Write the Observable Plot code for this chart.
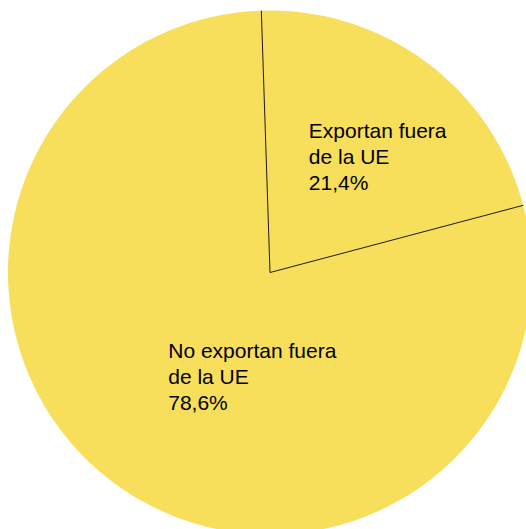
<!DOCTYPE html>
<html>
<head>
<meta charset="utf-8">
<script src="https://cdn.jsdelivr.net/npm/d3@7"></script>
<script src="https://cdn.jsdelivr.net/npm/@observablehq/plot@0.6"></script>
<style>
  html, body { margin: 0; padding: 0; background: #fff; overflow: hidden; }
  #chart svg { display: block; overflow: hidden; }
</style>
</head>
<body>
<div id="chart"></div>
<script>
const categories = ["Exportan fuera\nde la UE", "No exportan fuera\nde la UE"];
const values = [21.4, 78.6];
const valueLabels = ["21,4%", "78,6%"];

const W = 526, H = 529;
const cx = 269.5, cy = 272, R = 262;
const startDeg = -1.9;

const pie = d3.pie().sort(null).value(d => d.value)
  .startAngle(startDeg * Math.PI / 180)
  .endAngle((startDeg + 360) * Math.PI / 180);
const arcs = pie(categories.map((c, i) => ({name: c, value: values[i], label: valueLabels[i]})));

// polygon points for each slice (unit radius, y up)
const polyPts = [];
arcs.forEach((a, i) => {
  polyPts.push({slice: i, x: 0, y: 0});
  const n = 200;
  for (let k = 0; k <= n; k++) {
    const t = a.startAngle + (a.endAngle - a.startAngle) * k / n;
    polyPts.push({slice: i, x: Math.sin(t), y: Math.cos(t)});
  }
});
const radii = arcs.map(a => ({x: Math.sin(a.startAngle), y: Math.cos(a.startAngle)}));
const labels = arcs.map(a => {
  const m = (a.startAngle + a.endAngle) / 2;
  return {x: 0.6 * Math.sin(m), y: 0.6 * Math.cos(m), text: a.data.name + "\n" + a.data.label};
});

const chart = Plot.plot({
  width: W,
  height: H,
  margin: 0,
  x: {domain: [-cx / R, (W - cx) / R], axis: null},
  y: {domain: [-(H - cy) / R, cy / R], axis: null},
  style: {fontFamily: "Arial, 'Liberation Sans', sans-serif", background: "#fff", overflow: "hidden"},
  marks: [
    Plot.line(polyPts, {x: "x", y: "y", z: "slice", fill: "#F7DE5B", stroke: "none", curve: "linear-closed"}),
    Plot.link(radii, {x1: () => 0, y1: () => 0, x2: "x", y2: "y", stroke: "#1a1a1a", strokeWidth: 1}),
    Plot.text([labels[0]], {x: "x", y: "y", text: "text", textAnchor: "start", lineAnchor: "middle",
      fontSize: 21, lineHeight: 1.24, fill: "#000", dx: -55, dy: 9}),
    Plot.text([labels[1]], {x: "x", y: "y", text: "text", textAnchor: "start", lineAnchor: "middle",
      fontSize: 21, lineHeight: 1.24, fill: "#000", dx: -8, dy: -23})
  ]
});
document.getElementById("chart").appendChild(chart);
</script>
</body>
</html>
